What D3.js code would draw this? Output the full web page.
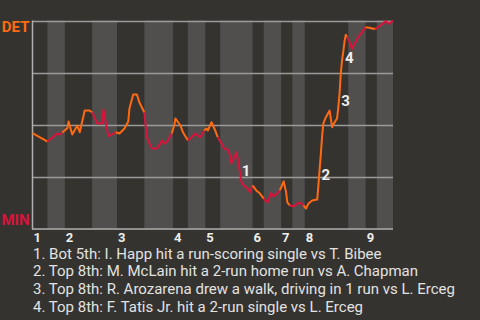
<!DOCTYPE html>
<html lang="en">
<head>
    <meta charset="UTF-8">
    <title>Win probability</title>
    <script src="https://d3js.org/d3.v7.min.js"></script>
    <style>
        body { margin: 0; background: #35332f; }
        svg { display: block; font-family: Roboto, sans-serif; }
        text.inning { fill: #eeeeee; font-size: 13px; font-weight: bold; }
        text.note { fill: #eeeeee; font-size: 15px; font-weight: bold; }
        text.legend { fill: #e2e2e2; font-size: 15px; }
        text.team { font-size: 15px; font-weight: bold; text-anchor: end; }
    </style>
</head>
<body>
<svg width="480" height="320"></svg>
<script>
    // pitches per half inning (top 1st, bot 1st, ...)
    const halfInningPitches = [12, 14, 22, 20, 22, 23, 12, 14, 12, 26, 9, 14, 9, 10, 35, 14, 9, 13];
    const inningLabels = ["1", "2", "3", "4", "5", "6", "7", "8", "9"];

    // pitch index and DET win probability
    const pitchIdx = [0, 6, 9, 12, 16, 20, 22, 24, 28, 29, 32, 36, 38, 42, 46, 48, 52, 56, 57, 61,
        64, 67, 70, 74, 77, 78, 81, 84, 86, 90, 91, 92, 94, 96, 100, 103, 104, 106, 108, 112,
        114, 115, 119, 121, 125, 128, 131, 133, 135, 136, 138, 140, 141, 144, 147, 149, 152, 154, 157, 159,
        160, 162, 164, 166, 167, 168, 170, 173, 175, 177, 180, 183, 186, 189, 192, 194, 197, 199, 202, 204,
        205, 207, 210, 213, 215, 218, 220, 222, 225, 229, 230, 231, 232, 233, 234, 236, 239, 241, 243, 245,
        246, 247, 248, 249, 250, 251, 252, 253, 255, 257, 259, 262, 265, 268, 271, 274, 276, 280, 284, 287, 290];
    const detWinProb = [.458, .438, .428, .418, .438, .457, .452, .462, .482, .514, .452, .495, .463, .567, .567, .558, .505, .505, .572, .444,
        .452, .463, .457, .481, .514, .577, .644, .644, .606, .558, .495, .438, .409, .385, .385, .409, .423, .409, .415, .457,
        .495, .529, .495, .463, .423, .439, .457, .447, .439, .447, .471, .481, .471, .511, .471, .439, .409, .385, .380, .351,
        .313, .337, .367, .303, .264, .223, .207, .192, .175, .207, .183, .168, .144, .126, .170, .154, .170, .183, .227, .175,
        .126, .111, .106, .120, .125, .111, .096, .120, .135, .139, .207, .288, .361, .447, .505, .535, .567, .487, .511, .529,
        .583, .650, .745, .808, .850, .900, .931, .920, .896, .864, .888, .920, .944, .968, .965, .960, .960, .976, .997, .984, 1.0];

    // key plays: where the number sits
    const notePitch = [166, 230, 246, 249];
    const noteProb = [.279, .262, .615, .820];
    const notes = [
        "1. Bot 5th: I. Happ hit a run-scoring single vs T. Bibee",
        "2. Top 8th: M. McLain hit a 2-run home run vs A. Chapman",
        "3. Top 8th: R. Arozarena drew a walk, driving in 1 run vs L. Erceg",
        "4. Top 8th: F. Tatis Jr. hit a 2-run single vs L. Erceg"
    ];

    const awayColor = "#ff6a10", homeColor = "#d8143c";
    const svg = d3.select("svg");

    const halfEnds = [0].concat(Array.from(d3.cumsum(halfInningPitches)));
    const x = d3.scaleLinear().domain([0, d3.sum(halfInningPitches)]).range([32.5, 393]);
    const y = d3.scaleLinear().domain([0, 1]).range([228.5, 20.5]);

    // stripes for bottom halves
    svg.append("g").selectAll("rect")
        .data(halfInningPitches.map((d, i) => i).filter(i => i % 2 === 1))
        .enter().append("rect")
        .attr("x", i => x(halfEnds[i])).attr("width", i => x(halfEnds[i + 1]) - x(halfEnds[i]))
        .attr("y", y(1)).attr("height", y(0) - y(1))
        .style("fill", "#504f4d");

    // grid
    svg.append("g").selectAll("line").data([0.25, 0.5, 0.75, 1]).enter().append("line")
        .attr("x1", x.range()[0]).attr("x2", x.range()[1])
        .attr("y1", d => Math.round(y(d)) + 0.5).attr("y2", d => Math.round(y(d)) + 0.5)
        .style("stroke", "#9a9a9a").style("stroke-width", 1.5);

    // axes
    svg.append("line").attr("x1", 32.5).attr("x2", 32.5).attr("y1", y(1)).attr("y2", y(0) + 1)
        .style("stroke", "#b0b0b0").style("stroke-width", 1.5);
    svg.append("line").attr("x1", 32).attr("x2", x.range()[1]).attr("y1", y(0) + 0.5).attr("y2", y(0) + 0.5)
        .style("stroke", "#b0b0b0").style("stroke-width", 1.5);

    // line, one path per run of the same half inning
    const pts = pitchIdx.map((p, i) => ({p: p, v: detWinProb[i]}));
    const halfOf = p => Math.max(0, d3.bisectLeft(halfEnds, p) - 1);
    const runs = [];
    for (let i = 1; i < pts.length; i++) {
        const h = halfOf(pts[i].p);
        const last = runs[runs.length - 1];
        if (last && last.h === h) last.pts.push(pts[i]);
        else runs.push({h: h, pts: [pts[i - 1], pts[i]]});
    }
    const line = d3.line().x(d => x(d.p)).y(d => y(d.v));
    svg.append("g").selectAll("path").data(runs).enter().append("path")
        .attr("d", d => line(d.pts))
        .style("fill", "none").style("stroke-width", 2).style("stroke-linejoin", "round")
        .style("stroke", d => d.h % 2 === 0 ? awayColor : homeColor);

    // numbers at key plays
    svg.append("g").selectAll("text").data(notePitch).enter().append("text")
        .attr("class", "note")
        .attr("x", d => x(d) + 3).attr("y", (d, i) => y(noteProb[i]) + 5.5)
        .text((d, i) => i + 1);

    // team labels
    svg.append("text").attr("class", "team").attr("x", 29.5).attr("y", 31.5)
        .style("fill", awayColor).text("DET");
    svg.append("text").attr("class", "team").attr("x", 29.5).attr("y", 224.5)
        .style("fill", homeColor).text("MIN");

    // inning numbers
    svg.append("g").selectAll("text").data(inningLabels).enter().append("text")
        .attr("class", "inning")
        .attr("x", (d, i) => x(halfEnds[i * 2]) + 1).attr("y", 242)
        .text(d => d);

    // legend
    svg.append("g").selectAll("text").data(notes).enter().append("text")
        .attr("class", "legend")
        .attr("x", 33).attr("y", (d, i) => 258.5 + i * 17.8)
        .text(d => d);
</script>
</body>
</html>
